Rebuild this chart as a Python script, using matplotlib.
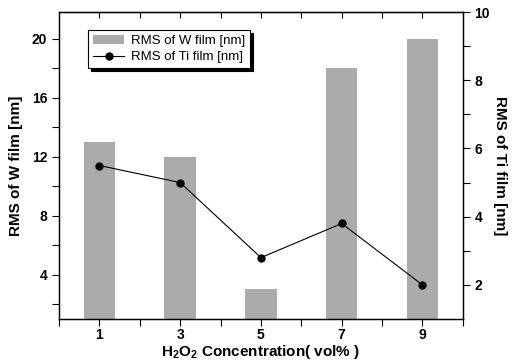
import matplotlib
matplotlib.use("Agg")
import matplotlib.pyplot as plt
from matplotlib.ticker import FixedLocator

plt.rcParams['font.family'] = ['Liberation Sans', 'DejaVu Sans']
plt.rcParams['font.weight'] = 'bold'
plt.rcParams['mathtext.fontset'] = 'custom'
plt.rcParams['mathtext.rm'] = 'Liberation Sans:bold'

concentration = [1, 3, 5, 7, 9]
rms_w = [13, 12, 3, 18, 20]
rms_ti = [5.5, 5.0, 2.8, 3.8, 2.0]

fig = plt.figure(figsize=(5.2, 3.64), dpi=100)
ax = fig.add_axes([0.1135, 0.1236, 0.7765, 0.8434])
ax2 = ax.twinx()

bars = ax.bar(concentration, rms_w, width=0.78, color='#ababab', label='RMS of W film [nm]', zorder=2)
line, = ax2.plot(concentration, rms_ti, '-o', color='black', lw=0.8, ms=5, label='RMS of Ti film [nm]')

ax.set_xlim(0, 10)
ax.set_ylim(1, 21.8)
ax2.set_ylim(1, 10)

ax.xaxis.set_major_locator(FixedLocator([1, 3, 5, 7, 9]))
ax.xaxis.set_minor_locator(FixedLocator([0, 2, 4, 6, 8, 10]))
ax.yaxis.set_major_locator(FixedLocator([4, 8, 12, 16, 20]))
ax.yaxis.set_minor_locator(FixedLocator([2, 6, 10, 14, 18]))
ax2.yaxis.set_major_locator(FixedLocator([2, 4, 6, 8, 10]))
ax2.yaxis.set_minor_locator(FixedLocator([3, 5, 7, 9]))

for a in (ax, ax2):
    a.tick_params(which='both', direction='out', length=5, width=0.8, labelsize=10)
    for s in a.spines.values():
        s.set_linewidth(0.9)
ax.tick_params(axis='x', pad=1.5)

top = ax.secondary_xaxis('top')
top.set_xticks([1, 2, 3, 4, 5, 6, 7, 8, 9])
top.tick_params(direction='in', length=4, width=0.8, labeltop=False)

ax.set_ylabel('RMS of W film [nm]', fontsize=11, fontweight='bold', labelpad=6)
ax2.set_ylabel('RMS of Ti film [nm]', fontsize=11, fontweight='bold', rotation=-90, labelpad=12)
ax.set_xlabel(r'H$_{2}$O$_{2}$ Concentration( vol% )', fontsize=11, fontweight='bold', labelpad=1)

leg = ax2.legend([bars, line], ['RMS of W film [nm]', 'RMS of Ti film [nm]'],
                 loc='upper left', bbox_to_anchor=(0.072, 0.941), borderaxespad=0,
                 prop={'size': 9.5, 'weight': 'normal'}, fancybox=False, edgecolor='black',
                 framealpha=1, shadow={'color': 'black', 'alpha': 1}, handlelength=2.4,
                 borderpad=0.35, labelspacing=0.3, handletextpad=0.5)
leg.get_frame().set_linewidth(0.8)

fig.savefig('out.png', dpi=100)
